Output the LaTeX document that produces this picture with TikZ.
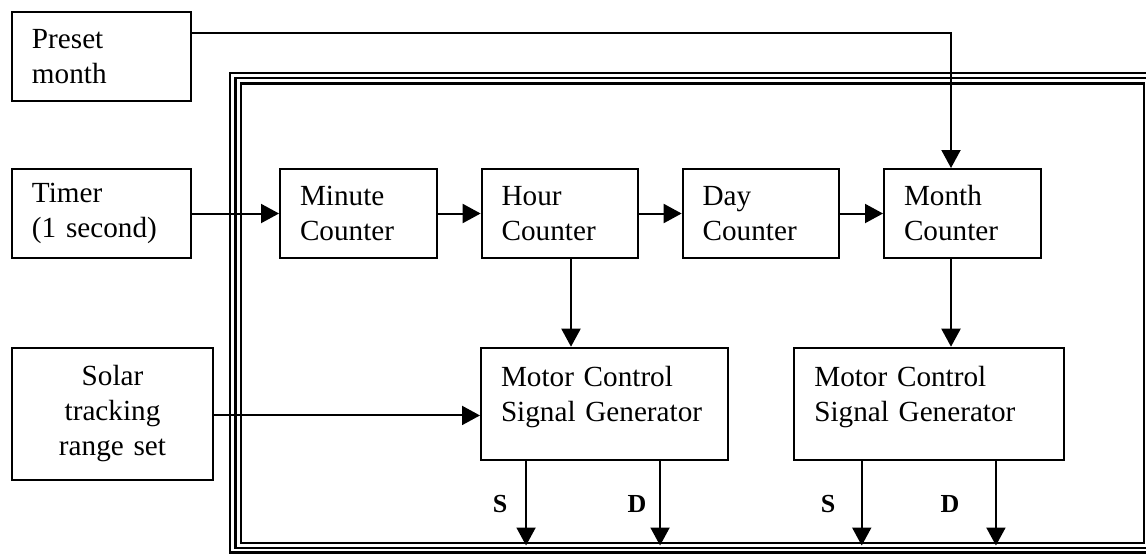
\documentclass[tikz,border=0pt]{standalone}
\usepackage{fontspec}
\setmainfont{Liberation Serif}
\usetikzlibrary{arrows.meta}

\newcommand\boxfont{\fontsize{14.6}{17.5}\selectfont}

\tikzset{
  blk/.style 2 args={draw, line width=1pt, inner xsep=10pt, inner ysep=0pt,
    align=left, text width=#1, minimum height=#2, font=\boxfont},
  arr/.style={-{Triangle[length=9pt,width=9.5pt]}, line width=1pt},
  frm/.style={line width=1.4pt},
  lbl/.style={anchor=base, font=\bfseries\fontsize{13}{15}\selectfont},
}

\begin{document}
\begin{tikzpicture}[x=0.5pt, y=-0.5pt]
  \useasboundingbox (0,0) rectangle (1146,553);

  % frame
  \draw[frm] (1146,73) -| (230,552.5) -- (1146,552.5);
  \draw[frm] (1146,78) -| (235.5,548) -- (1146,548);
  \draw[frm] (241,83.5) rectangle (1144,543);
  \coordinate (fb) at (0,545.5);

  \node[blk={69.5pt}{44.5pt}] (preset) at (101.5,56.5) {Preset\\month};
  \node[blk={69.5pt}{44.5pt}] (timer) at (101.5,213.5) {Timer\\(1 second)};
  \node[blk={80.5pt}{66pt}, align=center] (solar) at (112.5,413.9) {Solar\\tracking\\range set};

  \node[blk={58.35pt}{44.5pt}] (minute) at (358.35,213.5) {Minute\\Counter};
  \node[blk={58.35pt}{44.5pt}] (hour) at (560,213.5) {Hour\\Counter};
  \node[blk={58.35pt}{44.5pt}] (day) at (761,213.5) {Day\\Counter};
  \node[blk={58.5pt}{44.5pt}] (month) at (962.5,213.5) {Month\\Counter};

  \node[blk={103.65pt}{56.15pt}] (motor1) at (604.65,403.85)
    {Motor Control\\Signal Generator\rule[-10pt]{0pt}{0pt}};
  \node[blk={114.85pt}{56.15pt}] (motor2) at (929.15,403.85)
    {Motor Control\\Signal Generator\rule[-10pt]{0pt}{0pt}};

  \draw[arr] ([yshift=11.75pt]preset.east) -| ([xshift=-5.75pt]month.north);
  \draw[arr] (timer) -- (minute);
  \draw[arr] (minute) -- (hour);
  \draw[arr] (hour) -- (day);
  \draw[arr] (day) -- (month);
  \draw[arr] ([xshift=5.5pt]hour.south) -- ([xshift=5.5pt]hour.south |- motor1.north);
  \draw[arr] ([xshift=-5.75pt]month.south) -- ([xshift=-5.75pt]month.south |- motor2.north);
  \coordinate (sm) at ([yshift=-5.8pt]motor1.west);
  \draw[arr] (sm -| solar.east) -- (sm);

  \foreach \m/\dx in {motor1/-39.3, motor1/27.7, motor2/-33.7, motor2/33.4}
    \draw[arr] ([xshift=\dx pt]\m.south) -- ([xshift=\dx pt]\m.south |- fb);

  \node[lbl] (s1) at (500,512.7) {S};
  \node[lbl] (d1) at (637,512.7) {D};
  \node[lbl] (s2) at (828,512.7) {S};
  \node[lbl] (d2) at (950,512.7) {D};
\end{tikzpicture}
\end{document}
